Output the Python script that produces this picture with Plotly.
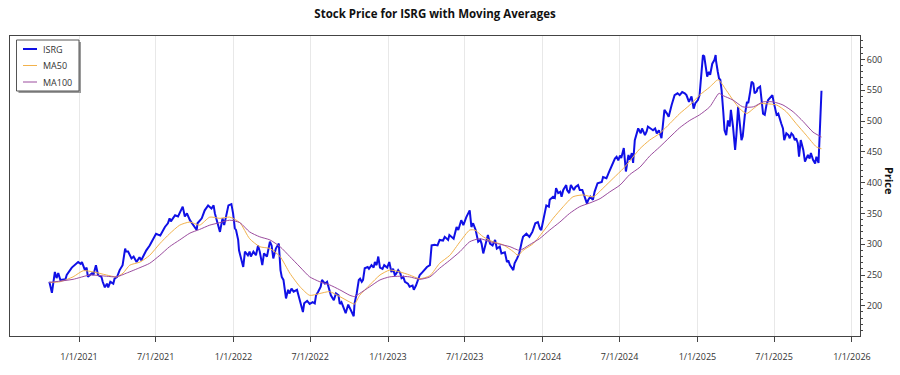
import plotly.graph_objects as go

TITLE = "Stock Price for ISRG with Moving Averages"

isrg_dates = [
"2020-10-23","2020-10-29","2020-11-05","2020-11-09","2020-11-13","2020-11-18","2020-11-30","2020-12-03","2020-12-15","2020-12-22","2020-12-30",
"2021-01-05","2021-01-08","2021-01-15","2021-01-19","2021-01-22","2021-02-01","2021-02-04","2021-02-10","2021-02-15","2021-02-23","2021-02-26","2021-03-03","2021-03-08","2021-03-11","2021-03-16","2021-03-23","2021-03-26","2021-04-01","2021-04-07","2021-04-14","2021-04-20","2021-04-22","2021-04-27","2021-05-05","2021-05-10","2021-05-17","2021-05-24","2021-05-28","2021-06-03","2021-06-09","2021-06-17","2021-06-25","2021-07-02","2021-07-12","2021-07-19","2021-07-23","2021-07-30","2021-08-03","2021-08-06","2021-08-16","2021-08-23","2021-08-27","2021-09-03","2021-09-08","2021-09-13","2021-09-20","2021-09-28","2021-10-06","2021-10-08","2021-10-18","2021-10-25","2021-11-02","2021-11-10","2021-11-15","2021-11-18","2021-11-26","2021-11-30","2021-12-06","2021-12-10","2021-12-20","2021-12-27","2021-12-31",
"2022-01-04","2022-01-07","2022-01-12","2022-01-14","2022-01-20","2022-01-24","2022-01-28","2022-02-04","2022-02-08","2022-02-11","2022-02-17","2022-02-23","2022-02-28","2022-03-04","2022-03-10","2022-03-14","2022-03-21","2022-03-28","2022-04-01","2022-04-05","2022-04-11","2022-04-18","2022-04-22","2022-04-25","2022-04-29","2022-05-05","2022-05-10","2022-05-13","2022-05-18","2022-05-23","2022-05-31","2022-06-07","2022-06-14","2022-06-17","2022-06-24","2022-06-30","2022-07-07","2022-07-12","2022-07-15","2022-07-20","2022-07-26","2022-07-29","2022-08-05","2022-08-10","2022-08-15","2022-08-19","2022-08-26","2022-08-31","2022-09-06","2022-09-09","2022-09-13","2022-09-19","2022-09-23","2022-09-29","2022-10-03","2022-10-07","2022-10-12","2022-10-14","2022-10-19","2022-10-24","2022-10-27","2022-10-31","2022-11-03","2022-11-07","2022-11-14","2022-11-17","2022-11-23","2022-11-28","2022-12-01","2022-12-05","2022-12-09","2022-12-13","2022-12-19","2022-12-23","2022-12-30",
"2023-01-04","2023-01-09","2023-01-13","2023-01-17","2023-01-20","2023-01-25","2023-01-30","2023-02-02","2023-02-06","2023-02-10","2023-02-17","2023-02-21","2023-02-28","2023-03-03","2023-03-08","2023-03-13","2023-03-17","2023-03-24","2023-04-03","2023-04-10","2023-04-14","2023-04-21","2023-04-28","2023-05-03","2023-05-11","2023-05-15","2023-05-23","2023-05-26","2023-06-05","2023-06-12","2023-06-16","2023-06-23","2023-06-28","2023-07-05","2023-07-13","2023-07-17","2023-07-21","2023-07-27","2023-08-02","2023-08-07","2023-08-10","2023-08-14","2023-08-18","2023-08-25","2023-08-30","2023-09-05","2023-09-11","2023-09-15","2023-09-22","2023-09-26","2023-10-04","2023-10-09","2023-10-12","2023-10-16","2023-10-24","2023-10-27","2023-11-02","2023-11-07","2023-11-13","2023-11-16","2023-11-24","2023-12-01","2023-12-08","2023-12-15","2023-12-21","2023-12-26","2023-12-29",
"2024-01-04","2024-01-10","2024-01-16","2024-01-18","2024-01-26","2024-01-30","2024-02-02","2024-02-07","2024-02-12","2024-02-15","2024-02-19","2024-02-26","2024-02-28","2024-03-04","2024-03-08","2024-03-15","2024-03-19","2024-03-25","2024-03-29","2024-04-04","2024-04-08","2024-04-15","2024-04-18","2024-04-23","2024-04-29","2024-05-03","2024-05-10","2024-05-20","2024-05-23","2024-05-31","2024-06-06","2024-06-12","2024-06-14","2024-06-20","2024-06-24","2024-06-28","2024-07-02","2024-07-05","2024-07-11","2024-07-16","2024-07-22","2024-07-25","2024-07-30","2024-08-02","2024-08-06","2024-08-14","2024-08-20","2024-08-23","2024-08-30","2024-09-03","2024-09-06","2024-09-12","2024-09-18","2024-09-23","2024-09-27","2024-10-02","2024-10-08","2024-10-11","2024-10-15","2024-10-21","2024-10-25","2024-11-01","2024-11-08","2024-11-15","2024-11-20","2024-11-26","2024-12-02","2024-12-06","2024-12-12","2024-12-18","2024-12-23","2024-12-27",
"2025-01-02","2025-01-06","2025-01-10","2025-01-14","2025-01-17","2025-01-21","2025-01-24","2025-01-28","2025-01-31","2025-02-05","2025-02-10","2025-02-13","2025-02-14","2025-02-18","2025-02-21","2025-02-24","2025-02-27","2025-03-03","2025-03-06","2025-03-10","2025-03-14","2025-03-18","2025-03-21","2025-03-26","2025-03-31","2025-04-03","2025-04-07","2025-04-11","2025-04-15","2025-04-18","2025-04-23","2025-04-28","2025-05-01","2025-05-05","2025-05-09","2025-05-13","2025-05-16","2025-05-21","2025-05-23","2025-05-29","2025-06-02","2025-06-05","2025-06-09","2025-06-13","2025-06-17","2025-06-23","2025-06-27","2025-06-30","2025-07-03","2025-07-07","2025-07-11","2025-07-15","2025-07-18","2025-07-22","2025-07-25","2025-07-30","2025-08-04","2025-08-07","2025-08-11","2025-08-15","2025-08-19","2025-08-22","2025-08-26","2025-08-29","2025-09-02","2025-09-04","2025-09-08","2025-09-12","2025-09-16","2025-09-19","2025-09-23","2025-09-26","2025-10-01","2025-10-06","2025-10-09","2025-10-14","2025-10-21",
]
isrg_close = [
239,221,255,245,253,242,243,250,262,266,271,
268,271,258,262,247,253,250,266,250,247,239,230,236,230,239,236,244,247,258,266,293,288,288,277,280,271,279,274,282,290,298,307,317,314,323,328,334,342,337,347,345,350,361,345,350,339,331,323,334,342,355,363,358,363,350,328,320,342,331,363,365,350,
326,323,307,290,271,263,288,282,288,280,288,282,298,288,266,285,280,304,298,277,293,301,258,247,242,212,226,220,228,223,226,206,190,204,208,203,206,204,217,223,231,242,236,239,228,217,209,220,217,203,206,196,188,202,196,188,183,204,220,242,244,239,242,261,263,260,266,262,271,266,280,262,260,266,262,
271,255,260,250,252,258,253,245,247,239,236,231,233,226,233,242,250,255,263,266,298,299,298,307,306,312,307,315,309,328,323,339,331,344,355,328,334,323,304,307,301,285,298,315,301,298,307,293,296,285,287,271,274,266,258,269,277,285,304,312,317,312,320,334,336,325,323,
344,363,361,372,377,375,391,383,385,377,388,396,388,383,396,388,393,396,388,388,380,366,372,377,372,385,399,401,409,407,417,426,431,439,442,436,444,440,456,418,445,437,448,432,469,488,480,488,477,483,491,488,485,488,480,485,472,491,518,512,507,526,542,545,542,547,545,542,531,540,520,529,
534,542,577,607,605,583,572,580,575,593,599,607,597,580,569,567,550,515,485,477,501,491,518,491,453,477,523,496,469,475,510,531,529,545,564,561,545,548,553,556,531,512,510,526,534,539,542,531,520,510,512,501,496,488,469,480,477,472,480,477,469,472,464,442,469,464,453,434,442,445,439,448,437,431,442,432,549,
]

ma50_dates = [
"2020-10-23","2020-11-17","2020-12-18","2021-01-11","2021-02-04","2021-03-07","2021-03-31","2021-04-15","2021-05-01","2021-05-25","2021-06-17","2021-07-11","2021-08-03","2021-08-27","2021-09-20","2021-10-13","2021-11-06","2021-11-30","2021-12-23",
"2022-01-16","2022-02-08","2022-03-04","2022-03-28","2022-04-21","2022-05-14","2022-06-07","2022-06-30","2022-07-24","2022-08-16","2022-09-09","2022-10-03","2022-10-14","2022-10-26","2022-11-19","2022-12-13",
"2023-01-05","2023-01-29","2023-02-21","2023-03-17","2023-04-10","2023-05-03","2023-05-27","2023-06-20","2023-07-13","2023-07-25","2023-08-14","2023-09-06","2023-09-30","2023-10-24","2023-11-04","2023-11-16","2023-12-10",
"2024-01-02","2024-01-26","2024-02-19","2024-03-13","2024-04-06","2024-04-30","2024-05-23","2024-06-16","2024-07-10","2024-07-25","2024-08-18","2024-09-10","2024-10-04","2024-10-28","2024-11-20","2024-12-14",
"2025-01-06","2025-01-30","2025-02-19","2025-03-10","2025-03-26","2025-04-11","2025-04-27","2025-05-13","2025-05-29","2025-06-13","2025-07-07","2025-07-30","2025-08-22","2025-09-15","2025-10-09","2025-10-21",
]
ma50_values = [
238,239,247,257,255,250,247,253,266,271,282,301,317,331,336,331,344,342,344,
335,309,296,293,280,253,231,217,220,223,215,206,203,217,234,250,
258,255,250,244,249,269,282,304,323,323,312,304,299,288,282,290,301,
320,342,361,377,380,377,391,407,423,435,455,469,480,496,512,526,
542,555,567,550,534,520,512,520,528,528,526,515,496,477,458,455,
]

ma100_dates = [
"2020-10-23","2020-12-18","2021-01-27","2021-03-07","2021-03-31","2021-04-23","2021-05-25","2021-06-17","2021-07-11","2021-08-03","2021-08-27","2021-09-20","2021-10-13","2021-11-06","2021-11-30","2021-12-23",
"2022-01-16","2022-02-08","2022-03-04","2022-03-28","2022-04-21","2022-05-14","2022-06-07","2022-06-30","2022-07-24","2022-08-16","2022-09-09","2022-10-03","2022-10-14","2022-10-26","2022-11-19","2022-12-13",
"2023-01-05","2023-01-29","2023-02-21","2023-03-17","2023-04-10","2023-05-03","2023-05-27","2023-06-20","2023-07-13","2023-08-06","2023-08-30","2023-09-22","2023-10-16","2023-11-08","2023-12-01","2023-12-25",
"2024-01-18","2024-02-11","2024-03-05","2024-03-29","2024-04-22","2024-05-16","2024-06-08","2024-07-02","2024-07-25","2024-08-18","2024-09-10","2024-10-04","2024-10-28","2024-11-20","2024-12-14",
"2025-01-06","2025-01-30","2025-02-21","2025-02-28","2025-03-26","2025-04-18","2025-05-13","2025-06-05","2025-06-29","2025-07-22","2025-08-15","2025-09-08","2025-10-01","2025-10-21",
]
ma100_values = [
238,243,250,248,247,253,262,269,282,296,307,318,324,331,335,339,
335,320,312,307,296,280,263,247,239,234,226,217,215,220,231,242,
247,248,247,243,247,261,274,288,304,309,304,300,296,290,299,309,
323,336,350,361,367,374,385,396,413,425,443,458,474,489,501,
510,523,545,542,534,523,523,531,531,526,515,499,482,474,
]

series_names = ["ISRG", "MA50", "MA100"]
series_colors = ["#1010E6", "#F2B24C", "#9B4C9E"]
series_widths = [2, 1, 1]

X_RANGE = ["2020-07-22", "2026-01-20"]
Y_RANGE = [151, 638]

FONT = "Open Sans, Segoe UI, sans-serif"

fig = go.Figure()
fig.add_trace(go.Scatter(x=isrg_dates, y=isrg_close, mode="lines", name=series_names[0],
                         line=dict(color=series_colors[0], width=series_widths[0])))
fig.add_trace(go.Scatter(x=ma50_dates, y=ma50_values, mode="lines", name=series_names[1],
                         line=dict(color=series_colors[1], width=series_widths[1], shape="spline", smoothing=0.6)))
fig.add_trace(go.Scatter(x=ma100_dates, y=ma100_values, mode="lines", name=series_names[2],
                         line=dict(color=series_colors[2], width=series_widths[2], shape="spline", smoothing=0.6)))

# Plot area in pixels: x 10..860, y 36..336  -> helpers for paper coordinates
def px(xp):
    return (xp - 10) / 850.0

def py(yp):
    return (336 - yp) / 300.0

shapes = [
    # legend shadow
    dict(type="rect", xref="paper", yref="paper", x0=px(18.5), x1=px(81), y0=py(93), y1=py(42),
         fillcolor="#9a9a9a", line=dict(width=0), layer="above"),
    # legend box
    dict(type="rect", xref="paper", yref="paper", x0=px(16.5), x1=px(79), y0=py(91), y1=py(40),
         fillcolor="white", line=dict(color="#555555", width=1), layer="above"),
]
annotations = []
legend_y = [49, 65.5, 82]
for name, color, width, yy in zip(series_names, series_colors, series_widths, legend_y):
    shapes.append(dict(type="line", xref="paper", yref="paper", x0=px(23), x1=px(37), y0=py(yy), y1=py(yy),
                       line=dict(color=color, width=width), layer="above"))
    annotations.append(dict(text=name, x=px(40.5), y=py(yy), xref="paper", yref="paper",
                            xanchor="left", yanchor="middle", showarrow=False,
                            font=dict(family=FONT, size=9, color="#333333")))
annotations.append(dict(text="<b>Price</b>", textangle=90, x=px(889), y=py(181), xref="paper", yref="paper",
                        xanchor="center", yanchor="middle", showarrow=False,
                        font=dict(family=FONT, size=11, color="#111111")))

fig.update_layout(
    width=900, height=375,
    margin=dict(l=10, r=40, t=36, b=39),
    paper_bgcolor="white", plot_bgcolor="white",
    font=dict(family=FONT, size=9, color="#333333"),
    title=dict(text="<b>" + TITLE + "</b>", x=0.5, xref="paper", xanchor="center",
               y=0.962, yref="container", yanchor="middle",
               font=dict(family=FONT, size=11.5, color="#111111")),
    showlegend=False,
    xaxis=dict(type="date", range=X_RANGE, tick0="2021-01-01", dtick="M6",
               tickformat="%-m/%-d/%Y", showgrid=True, gridcolor="#E8E8E8", gridwidth=1,
               showline=True, linecolor="#444444", linewidth=1, mirror=True,
               ticks="outside", ticklen=5, tickcolor="#444444", ticklabelstandoff=7,
               tickfont=dict(family=FONT, size=9, color="#333333"), zeroline=False),
    yaxis=dict(range=Y_RANGE, side="right", tick0=0, dtick=50, showgrid=False,
               showline=True, linecolor="#444444", linewidth=1, mirror=True,
               ticks="outside", ticklen=4, tickcolor="#444444",
               minor=dict(ticks="outside", ticklen=2, dtick=10, tickcolor="#444444", showgrid=False),
               tickfont=dict(family=FONT, size=9, color="#333333"), zeroline=False),
    shapes=shapes,
    annotations=annotations,
)

fig.write_html("out.html", config={"displayModeBar": False},
               post_script="document.body.style.margin='0';document.body.style.padding='0';")
